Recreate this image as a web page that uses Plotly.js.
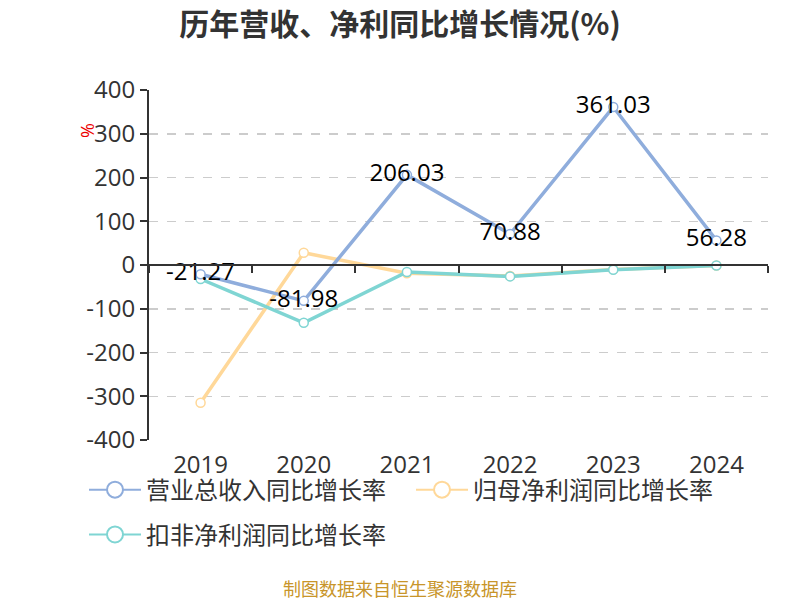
<!DOCTYPE html>
<html><head><meta charset="utf-8">
<script src="https://cdn.plot.ly/plotly-3.0.1.min.js"></script>
<style>body{margin:0;}#chart{width:800px;height:600px;}</style>
</head><body><div id="chart"></div>
<script>
const years = ['2019','2020','2021','2022','2023','2024'];
const revenueGrowth = [-21.27, -81.98, 206.03, 70.88, 361.03, 56.28];
const netProfitGrowth = [-315, 28, -19, -25, -10, -1];
const deductedProfitGrowth = [-32, -132, -16, -26, -11, -1];
const seriesNames = ['营业总收入同比增长率', '归母净利润同比增长率', '扣非净利润同比增长率'];
const yTickVals = [-400, -300, -200, -100, 0, 100, 200, 300, 400];
const yTickText = ['-400', '-300', '-200', '-100', '0', '100', '200', '300', '400'];
const colors = ['#8FADDC', '#FFD899', '#7FD5D3'];
const FONT = '"Open Sans", "Noto Sans CJK SC", sans-serif';
const CJK = '"Noto Sans CJK SC", "Noto Sans", sans-serif';

function series(y, i, withText) {
  return {
    x: years, y: y, type: 'scatter', mode: withText ? 'lines+markers+text' : 'lines+markers',
    name: seriesNames[i], showlegend: false,
    line: {color: colors[i], width: 3.5},
    marker: {symbol: 'circle', size: 9, color: '#fff', line: {color: colors[i], width: 1.5}},
    text: withText ? y.map(v => v.toFixed(2)) : undefined,
    textposition: 'middle center',
    textfont: {family: FONT, size: 24, color: '#000'},
    cliponaxis: false, hoverinfo: 'x+y'
  };
}
function legendItem(i, lg) {
  return {
    x: [null], y: [null], type: 'scatter', mode: 'lines+markers', name: seriesNames[i],
    legend: lg, showlegend: true,
    line: {color: colors[i], width: 2},
    marker: {symbol: 'circle', size: 16, color: '#fff', line: {color: colors[i], width: 2}}
  };
}
const data = [
  {x: [null], y: [null], xaxis: 'x2', yaxis: 'y', type: 'scatter', mode: 'lines', showlegend: false, hoverinfo: 'skip'},
  series(netProfitGrowth, 1, false),
  series(deductedProfitGrowth, 2, false),
  series(revenueGrowth, 0, true),
  legendItem(0, 'legend'), legendItem(1, 'legend'), legendItem(2, 'legend2')
];
const layout = {
  width: 800, height: 600,
  margin: {l: 149, r: 32, t: 90, b: 160},
  paper_bgcolor: '#fff', plot_bgcolor: '#fff',
  font: {family: FONT, color: '#333'},
  title: {text: '<b>历年营收、净利同比增长情况(%)</b>', x: 0.5, xanchor: 'center', y: 0.96, yanchor: 'middle', yref: 'container',
          font: {family: CJK, size: 30, color: '#333'}},
  xaxis: {type: 'category', range: [-0.5, 5.5], showline: false, showgrid: false, zeroline: false,
          ticks: '', ticklabelstandoff: 8, tickfont: {family: FONT, size: 24, color: '#333'}, fixedrange: true},
  xaxis2: {overlaying: 'x', anchor: 'free', position: 0.5, range: [-0.5, 5.5], type: 'linear',
           tickvals: [-0.5, 0.5, 1.5, 2.5, 3.5, 4.5, 5.5], showticklabels: false,
           ticks: 'outside', ticklen: 7, tickwidth: 2, tickcolor: '#333',
           showline: true, linecolor: '#333', linewidth: 2, showgrid: false, zeroline: false},
  yaxis: {range: [-400, 400], tickvals: yTickVals, ticktext: yTickText,
          showline: true, linecolor: '#333', linewidth: 2, ticks: 'outside', ticklen: 7, tickwidth: 2, tickcolor: '#333',
          showgrid: true, gridcolor: '#ccc', gridwidth: 1.5, griddash: 'dash', zeroline: false,
          tickfont: {family: FONT, size: 24, color: '#333'}, fixedrange: true},
  legend: {orientation: 'h', x: -0.105, xanchor: 'left', y: -0.143, yanchor: 'middle',
           font: {family: CJK, size: 24, color: '#333'}, itemwidth: 52, entrywidth: 260, bgcolor: 'rgba(0,0,0,0)'},
  legend2: {orientation: 'h', x: -0.105, xanchor: 'left', y: -0.271, yanchor: 'middle',
           font: {family: CJK, size: 24, color: '#333'}, itemwidth: 52, bgcolor: 'rgba(0,0,0,0)'},
  annotations: [
    {text: '%', xref: 'paper', yref: 'paper', x: -0.1, y: 0.883, xanchor: 'center', yanchor: 'middle', showarrow: false, textangle: -90,
     font: {family: FONT, size: 18, color: '#e00'}},
    {text: '制图数据来自恒生聚源数据库', xref: 'paper', yref: 'paper', x: 0.4055, y: -0.4229, showarrow: false,
     xanchor: 'center', yanchor: 'middle', font: {family: CJK, size: 18, color: '#C8952A'}}
  ]
};
Plotly.newPlot('chart', data, layout, {displayModeBar: false, staticPlot: true});
</script></body></html>
